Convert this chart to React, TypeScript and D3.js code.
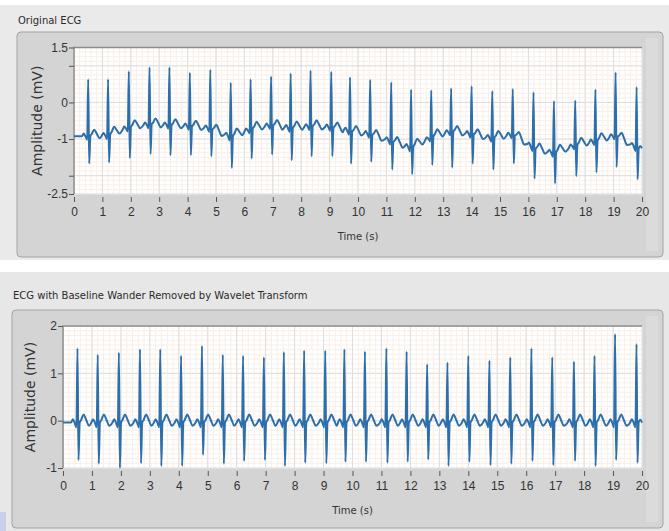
import React, { useEffect, useRef } from 'react';
import * as d3 from 'd3';

// R-peak times (s), same recording in both charts
const beatTimes = [0.5, 1.2, 1.93, 2.66, 3.36, 4.08, 4.8, 5.52, 6.22, 6.94, 7.63, 8.33, 9.06, 9.72,
  10.43, 11.17, 11.87, 12.58, 13.28, 14.0, 14.73, 15.45, 16.18, 16.9, 17.65, 18.36, 19.07, 19.81];

// original ECG (mV): R peak tops, S troughs, isoelectric level at each beat
const rawPeaks = [0.63, 0.63, 0.85, 0.96, 0.96, 0.81, 0.89, 0.54, 0.63, 0.71, 0.79, 0.87, 0.84, 0.69,
  0.62, 0.55, 0.35, 0.33, 0.39, 0.44, 0.31, 0.37, 0.28, 0.04, 0.05, 0.35, 0.82, 0.42];
const rawTroughs = [-1.67, -1.64, -1.52, -1.41, -1.44, -1.44, -1.47, -1.79, -1.53, -1.42, -1.58, -1.47, -1.47, -1.67,
  -1.62, -1.83, -1.96, -1.71, -1.78, -1.67, -1.83, -1.67, -2.08, -2.21, -2.01, -1.91, -1.76, -2.1];
const rawBaseline = [-0.92, -0.9, -0.68, -0.6, -0.62, -0.65, -0.71, -0.95, -0.73, -0.62, -0.71, -0.65, -0.68, -0.79,
  -0.87, -1.06, -1.25, -0.95, -0.79, -0.87, -0.98, -0.87, -1.25, -1.39, -1.17, -1.06, -0.9, -1.25];

// after baseline wander removal (mV)
const cleanPeaks = [1.53, 1.39, 1.44, 1.51, 1.51, 1.37, 1.58, 1.39, 1.37, 1.34, 1.45, 1.48, 1.48, 1.51,
  1.46, 1.53, 1.46, 1.19, 1.23, 1.37, 1.27, 1.34, 1.53, 1.34, 1.25, 1.37, 1.83, 1.62];
const cleanTroughs = [-0.83, -0.91, -1.0, -0.9, -0.96, -0.96, -0.72, -0.91, -0.85, -0.83, -0.96, -0.89, -0.9, -0.87,
  -0.87, -0.89, -0.87, -0.82, -0.96, -0.87, -0.94, -0.91, -0.85, -0.94, -0.85, -0.96, -0.83, -0.89];
const cleanBaseline = -0.04;

// P / Q before the R peak and T wave after it: [offset s, mV above baseline]
const waveBefore = [[-0.22, 0], [-0.16, 0.07], [-0.1, 0], [-0.035, -0.1]];
const waveAfter = [[0.075, 0], [0.13, 0.06], [0.21, 0.17], [0.3, 0.06], [0.4, -0.07]];
const sOffset = 0.035;

const timeTicks = [0, 1, 2, 3, 4, 5, 6, 7, 8, 9, 10, 11, 12, 13, 14, 15, 16, 17, 18, 19, 20];
const rawTicks = [1.5, 1, 0, -1, -2, -2.5];
const rawTickLabels = ['1.5', '', '0', '-1', '', '-2.5'];
const cleanTicks = [2, 1, 0, -1];
const cleanTickLabels = ['2', '1', '0', '-1'];

const FONT = 'DejaVu Sans, Verdana, sans-serif';
const NUM_FONT = '"Liberation Sans", Arial, sans-serif';

function buildTrace(peaks: number[], troughs: number[], base: (t: number) => number) {
  const pts: [number, number][] = [[0, base(0)]];
  beatTimes.forEach((t, i) => {
    waveBefore.forEach(([dt, v]) => pts.push([t + dt, base(t + dt) + v]));
    pts.push([t, peaks[i]]);
    pts.push([t + sOffset, troughs[i]]);
    waveAfter.forEach(([dt, v]) => pts.push([t + dt, base(t + dt) + v]));
  });
  pts.push([20, base(20)]);
  return pts.filter(p => p[0] >= 0 && p[0] <= 20);
}

function drawPanel(root: any, cfg: any) {
  const {
    title, titleY, panel, plot, domain, ticks, labels, minorStep, trace, yLabelX,
  } = cfg;
  const g = root.append('g');

  g.append('text')
    .attr('x', panel.x + 1).attr('y', titleY)
    .attr('font-family', FONT).attr('font-size', 10).attr('fill', '#2a2a2a')
    .text(title);

  g.append('rect')
    .attr('x', panel.x).attr('y', panel.y).attr('width', panel.w).attr('height', panel.h)
    .attr('rx', 4).attr('fill', '#d4d4d4').attr('stroke', '#a4a4a4');
  g.append('rect')
    .attr('x', panel.x + panel.w - 17).attr('y', panel.y + 6).attr('width', 12).attr('height', panel.h - 12)
    .attr('fill', '#dbdbdb');

  const x = d3.scaleLinear().domain([0, 20]).range([plot.x0, plot.x1]);
  const y = d3.scaleLinear().domain(domain).range([plot.y1, plot.y0]);

  g.append('rect')
    .attr('x', plot.x0).attr('y', plot.y0).attr('width', plot.x1 - plot.x0).attr('height', plot.y1 - plot.y0)
    .attr('fill', '#ffffff');

  const grid = g.append('g');
  grid.selectAll('line.vmin').data(d3.range(0, 20.001, 0.2)).join('line')
    .attr('x1', d => x(d)).attr('x2', d => x(d)).attr('y1', plot.y0).attr('y2', plot.y1)
    .attr('stroke', '#f9efe7').attr('stroke-width', 1);
  grid.selectAll('line.hmin').data(d3.range(domain[0], domain[1] + 0.001, minorStep)).join('line')
    .attr('y1', d => y(d)).attr('y2', d => y(d)).attr('x1', plot.x0).attr('x2', plot.x1)
    .attr('stroke', '#f9efe7').attr('stroke-width', 1);
  grid.selectAll('line.vmaj').data(timeTicks).join('line')
    .attr('x1', d => x(d)).attr('x2', d => x(d)).attr('y1', plot.y0).attr('y2', plot.y1)
    .attr('stroke', '#dedede').attr('stroke-width', 1);
  grid.selectAll('line.hmaj').data(ticks).join('line')
    .attr('y1', d => y(d)).attr('y2', d => y(d)).attr('x1', plot.x0).attr('x2', plot.x1)
    .attr('stroke', '#dedede').attr('stroke-width', 1);

  // plot frame: darker top/left edges
  g.append('path')
    .attr('d', `M${plot.x0},${plot.y1} V${plot.y0} H${plot.x1}`)
    .attr('fill', 'none').attr('stroke', '#8c8c8c').attr('stroke-width', 1.5);

  const line = d3.line<[number, number]>()
    .x(d => x(d[0])).y(d => y(d[1]))
    .curve(d3.curveMonotoneX);
  g.append('path')
    .datum(trace)
    .attr('d', line)
    .attr('fill', 'none').attr('stroke', '#2c6fab').attr('stroke-width', 2)
    .attr('stroke-linejoin', 'round');

  const yAxis = g.append('g')
    .attr('transform', `translate(${plot.x0},0)`)
    .call(d3.axisLeft(y).tickValues(ticks).tickFormat((d, i) => labels[i]).tickSize(5).tickPadding(1));
  yAxis.select('.domain').remove();
  yAxis.selectAll('line').attr('stroke', '#555');
  yAxis.selectAll('text').attr('font-family', NUM_FONT).attr('font-size', 12).attr('fill', '#333');

  const xAxis = g.append('g')
    .attr('transform', `translate(0,${plot.y1 + 3})`)
    .call(d3.axisBottom(x).tickValues(timeTicks).tickSize(5).tickPadding(5));
  xAxis.select('.domain').remove();
  xAxis.selectAll('line').attr('stroke', '#555');
  xAxis.selectAll('text').attr('font-family', NUM_FONT).attr('font-size', 12).attr('fill', '#333');

  g.append('text')
    .attr('x', (plot.x0 + plot.x1) / 2).attr('y', plot.y1 + 46)
    .attr('text-anchor', 'middle')
    .attr('font-family', FONT).attr('font-size', 10).attr('fill', '#333')
    .text('Time (s)');

  g.append('text')
    .attr('transform', `translate(${yLabelX},${(plot.y0 + plot.y1) / 2}) rotate(-90)`)
    .attr('text-anchor', 'middle')
    .attr('font-family', FONT).attr('font-size', 14).attr('fill', '#333')
    .text('Amplitude (mV)');
}

export default function App() {
  const svgRef = useRef<SVGSVGElement>(null);

  useEffect(() => {
    const svg = d3.select(svgRef.current);
    svg.selectAll('*').remove();

    svg.append('rect').attr('width', 669).attr('height', 531).attr('fill', '#ffffff');
    svg.append('rect').attr('x', 0).attr('y', 5).attr('width', 669).attr('height', 255).attr('fill', '#eaeaea');
    svg.append('rect').attr('x', 0).attr('y', 272).attr('width', 669).attr('height', 259).attr('fill', '#e7e7e7');
    svg.append('rect').attr('x', 0).attr('y', 512).attr('width', 6).attr('height', 19).attr('fill', '#c9cfe8');

    const rawBase = d3.scaleLinear().domain(beatTimes).range(rawBaseline).clamp(true);

    drawPanel(svg, {
      title: 'Original ECG',
      titleY: 24,
      panel: { x: 17, y: 32, w: 646, h: 225 },
      plot: { x0: 74, x1: 642, y0: 47.5, y1: 194 },
      domain: [-2.5, 1.5],
      ticks: rawTicks,
      labels: rawTickLabels,
      minorStep: 0.125,
      trace: buildTrace(rawPeaks, rawTroughs, t => rawBase(t)),
      yLabelX: 42,
    });

    drawPanel(svg, {
      title: 'ECG with Baseline Wander Removed by Wavelet Transform',
      titleY: 299,
      panel: { x: 12, y: 310, w: 651, h: 218 },
      plot: { x0: 63, x1: 642, y0: 326, y1: 468 },
      domain: [-1, 2],
      ticks: cleanTicks,
      labels: cleanTickLabels,
      minorStep: 0.1,
      trace: buildTrace(cleanPeaks, cleanTroughs, () => cleanBaseline),
      yLabelX: 35,
    });
  }, []);

  return (
    <svg
      ref={svgRef}
      width={669}
      height={531}
      style={{ position: 'absolute', left: 0, top: 0 }}
    />
  );
}
